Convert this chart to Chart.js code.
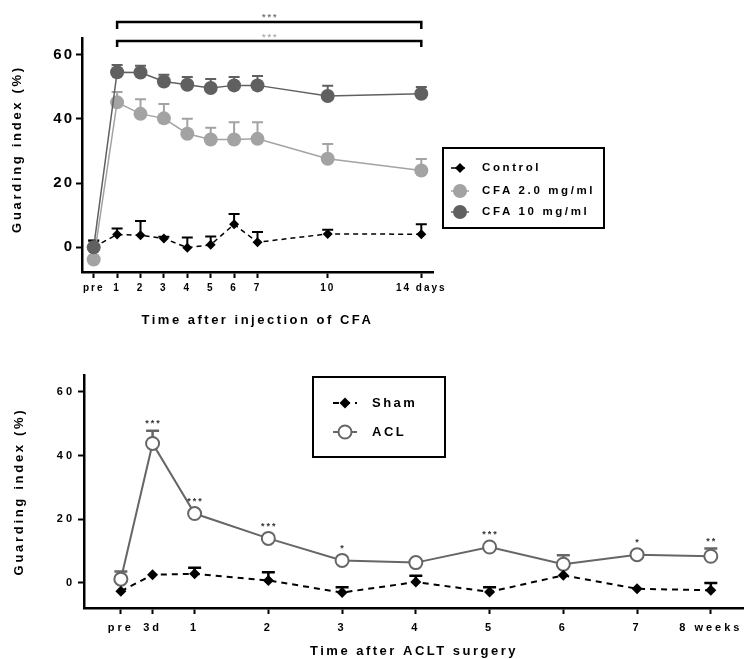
<!DOCTYPE html>
<html lang="en">
<head>
<meta charset="UTF-8">
<title>Guarding index</title>
<script src="https://cdn.jsdelivr.net/npm/chart.js"></script>
<style>
  html, body { margin: 0; padding: 0; background: #fff; }
  body { width: 744px; height: 659px; position: relative; overflow: hidden; }
  .panel { position: absolute; left: 0; width: 744px; }
  #topPanel { top: 0; height: 340px; }
  #botPanel { top: 340px; height: 319px; }
</style>
</head>
<body>
<div class="panel" id="topPanel"><canvas id="cfaChart"></canvas></div>
<div class="panel" id="botPanel"><canvas id="aclChart"></canvas></div>
<script>
// ---- top panel: CFA injection ----
const cfaDays = [0, 1, 2, 3, 4, 5, 6, 7, 10, 14];
const cfaDayLabels = ['pre', '1', '2', '3', '4', '5', '6', '7', '10', '14 days'];
const control = [0, 3.9, 3.7, 2.7, -0.2, 0.7, 7.1, 1.5, 4.1, 4.0];
const controlErr = [2.0, 1.9, 4.4, 0.5, 3.2, 2.6, 3.2, 3.2, 1.3, 3.1];
const cfa2 = [-3.9, 45.2, 41.6, 40.2, 35.4, 33.6, 33.6, 33.8, 27.6, 23.9];
const cfa2Err = [0, 3.2, 4.6, 4.5, 4.7, 3.7, 5.4, 5.2, 4.6, 3.6];
const cfa10 = [-0.1, 54.6, 54.5, 51.7, 50.7, 49.7, 50.5, 50.5, 47.2, 47.9];
const cfa10Err = [2.2, 2.3, 2.1, 2.1, 2.4, 2.8, 2.6, 2.9, 3.2, 2.1];

// ---- bottom panel: ACLT surgery ----
const aclWeeks = [0, 0.43, 1, 2, 3, 4, 5, 6, 7, 8];
const aclWeekLabels = ['pre', '3d', '1', '2', '3', '4', '5', '6', '7', '8 weeks'];
const sham = [-2.6, 2.6, 2.9, 0.8, -3.0, 0.3, -2.8, 2.4, -1.8, -2.3];
const shamErr = [0, 0, 1.9, 2.6, 1.7, 2.0, 1.5, 0, 0, 2.3];
const acl = [1.2, 43.8, 21.8, 14.0, 7.1, 6.4, 11.3, 5.9, 8.9, 8.4];
const aclErr = [2.4, 4.0, 0, 0, 0, 0, 0, 2.8, 0, 2.4];
const aclStars = ['', '***', '***', '***', '*', '', '***', '', '*', '**'];

const yTicks = [0, 20, 40, 60];
const FONT = "'Liberation Sans', Arial, sans-serif";

const pts = (xs, ys) => xs.map((x, i) => ({ x: x, y: ys[i] }));

// draws upward SEM whiskers from dataset.errors
function errorBarPlugin(width, capHalf) {
  return {
    id: 'errorBars',
    beforeDatasetsDraw(chart) {
      const ctx = chart.ctx;
      const ys = chart.scales.y;
      chart.data.datasets.forEach((ds, i) => {
        if (!ds.errors) return;
        const meta = chart.getDatasetMeta(i);
        ctx.save();
        ctx.strokeStyle = ds.errorColor || ds.borderColor;
        ctx.lineWidth = width;
        meta.data.forEach((pt, j) => {
          const e = ds.errors[j];
          if (!e) return;
          const top = ys.getPixelForValue(ds.data[j].y + e);
          ctx.beginPath();
          ctx.moveTo(pt.x, pt.y);
          ctx.lineTo(pt.x, top);
          ctx.moveTo(pt.x - capHalf, top);
          ctx.lineTo(pt.x + capHalf, top);
          ctx.stroke();
        });
        ctx.restore();
      });
    }
  };
}

// letter spacing (and small nudge) for axis labels / titles
function spacingPlugin(map) {
  return {
    id: 'spacing',
    afterUpdate(chart) {
      for (const id in map) {
        const s = chart.scales[id];
        if (!s || s._spaced) continue;
        s._spaced = true;
        const m = map[id];
        const wrap = (fn, sp, dy) => function (...a) {
          this.ctx.save();
          this.ctx.letterSpacing = sp + 'px';
          if (dy) this.ctx.translate(0, dy);
          fn.apply(this, a);
          this.ctx.restore();
        };
        s.drawLabels = wrap(s.drawLabels, m.ticks, 0);
        s.drawTitle = wrap(s.drawTitle, m.title, m.titleDy || 0);
      }
    }
  };
}

// framed legend box
function boxLegendPlugin(cfg) {
  return {
    id: 'boxLegend',
    afterDraw(chart) {
      const ctx = chart.ctx;
      ctx.save();
      ctx.lineWidth = 2;
      ctx.strokeStyle = '#000';
      ctx.strokeRect(cfg.x, cfg.y, cfg.w, cfg.h);
      cfg.items.forEach(it => {
        const ds = chart.data.datasets[it.index];
        ctx.save();
        ctx.strokeStyle = ds.borderColor;
        ctx.lineWidth = ds.borderWidth;
        ctx.setLineDash(ds.borderDash || []);
        ctx.beginPath();
        ctx.moveTo(cfg.symX - cfg.half, it.y);
        ctx.lineTo(cfg.symX + cfg.half, it.y);
        ctx.stroke();
        ctx.setLineDash([]);
        ctx.fillStyle = ds.pointBackgroundColor;
        ctx.strokeStyle = ds.pointBorderColor;
        ctx.lineWidth = ds.pointBorderWidth;
        Chart.helpers.drawPoint(ctx, { pointStyle: ds.pointStyle, radius: ds.pointRadius, borderWidth: ds.pointBorderWidth, rotation: 0 }, cfg.symX, it.y);
        ctx.restore();
        ctx.fillStyle = '#000';
        ctx.font = 'bold ' + cfg.fontSize + 'px ' + FONT;
        ctx.letterSpacing = cfg.spacing + 'px';
        ctx.textBaseline = 'middle';
        ctx.textAlign = 'left';
        ctx.fillText(ds.label, cfg.textX, it.y);
      });
      ctx.restore();
    }
  };
}

// significance brackets on the CFA panel
const bracketRows = [
  { y: 22, drop: 7, starY: 16, color: '#777' },
  { y: 41, drop: 6, starY: 36, color: '#b0b0b0' }
];
const bracketPlugin = {
  id: 'brackets',
  afterDraw(chart) {
    const ctx = chart.ctx;
    const xs = chart.scales.x;
    const x1 = xs.getPixelForValue(cfaDays[1]);
    const x2 = xs.getPixelForValue(cfaDays[cfaDays.length - 1]);
    ctx.save();
    bracketRows.forEach(r => {
      ctx.fillStyle = r.color;
      ctx.font = 'bold 9px ' + FONT;
      ctx.letterSpacing = '2px';
      ctx.textAlign = 'center';
      ctx.textBaseline = 'middle';
      ctx.fillText('***', (x1 + x2) / 2 + 1, r.starY + 2);
      ctx.strokeStyle = '#000';
      ctx.lineWidth = 2.5;
      ctx.beginPath();
      ctx.moveTo(x1, r.y + r.drop);
      ctx.lineTo(x1, r.y);
      ctx.lineTo(x2, r.y);
      ctx.lineTo(x2, r.y + r.drop);
      ctx.stroke();
    });
    ctx.restore();
  }
};

// stars over ACL points
const starPlugin = {
  id: 'stars',
  afterDatasetsDraw(chart) {
    const ctx = chart.ctx;
    const ys = chart.scales.y;
    const meta = chart.getDatasetMeta(1);
    ctx.save();
    ctx.fillStyle = '#333';
    ctx.font = 'bold 9px ' + FONT;
    ctx.letterSpacing = '2px';
    ctx.textAlign = 'center';
    ctx.textBaseline = 'middle';
    meta.data.forEach((pt, j) => {
      if (!aclStars[j]) return;
      let y = pt.y - 14;
      if (aclErr[j]) y = Math.min(y, ys.getPixelForValue(acl[j] + aclErr[j]) - 9);
      ctx.fillText(aclStars[j], pt.x + 1, y + 2);
    });
    ctx.restore();
  }
};

function axisOpts(o) {
  return {
    type: 'linear',
    min: o.min,
    max: o.max,
    afterBuildTicks: s => { s.ticks = o.ticks.map(v => ({ value: v })); },
    afterFit: s => {
      if (o.width !== undefined) s.width = o.width;
      if (o.height !== undefined) s.height = o.height;
      s.paddingLeft = 0; s.paddingRight = 0; s.paddingTop = 0; s.paddingBottom = 0;
    },
    grid: { display: true, drawOnChartArea: false, drawTicks: true, tickLength: 6, tickWidth: 2, tickColor: '#000' },
    border: { display: true, color: '#000', width: 2.5 },
    ticks: {
      autoSkip: false,
      maxRotation: 0,
      color: '#000',
      padding: o.pad,
      font: { family: FONT, size: o.tickSize, weight: 'bold' },
      callback: o.labels ? (v, i) => o.labels[i] : (v => v)
    },
    title: {
      display: true,
      text: o.title,
      color: '#000',
      font: { family: FONT, size: 13, weight: 'bold' },
      padding: o.titlePad
    }
  };
}

new Chart(document.getElementById('cfaChart'), {
  type: 'line',
  data: {
    datasets: [
      {
        label: 'CFA 10 mg/ml', data: pts(cfaDays, cfa10), errors: cfa10Err,
        borderColor: '#606060', borderWidth: 1.5, pointStyle: 'circle', pointRadius: 7,
        pointBackgroundColor: '#606060', pointBorderColor: '#606060', pointBorderWidth: 0
      },
      {
        label: 'CFA 2.0 mg/ml', data: pts(cfaDays, cfa2), errors: cfa2Err,
        borderColor: '#a3a3a3', borderWidth: 1.5, pointStyle: 'circle', pointRadius: 7,
        pointBackgroundColor: '#a3a3a3', pointBorderColor: '#a3a3a3', pointBorderWidth: 0
      },
      {
        label: 'Control', data: pts(cfaDays, control), errors: controlErr,
        borderColor: '#000', borderWidth: 1.5, borderDash: [5, 4], pointStyle: 'rectRot', pointRadius: 5,
        pointBackgroundColor: '#000', pointBorderColor: '#000', pointBorderWidth: 0
      }
    ]
  },
  options: {
    responsive: true,
    maintainAspectRatio: false,
    animation: false,
    layout: { autoPadding: false, padding: { top: 38, right: 311, bottom: 0, left: 0 } },
    plugins: { legend: { display: false }, tooltip: { enabled: false } },
    scales: {
      x: axisOpts({ min: -0.5, max: 14.5, ticks: cfaDays, labels: cfaDayLabels, tickSize: 10, pad: 4,
        height: 68, title: 'Time after injection of CFA', titlePad: { top: 0, bottom: 12 } }),
      y: axisOpts({ min: -7.8, max: 65.3, ticks: yTicks, tickSize: 15, pad: 2,
        width: 82, title: 'Guarding index (%)', titlePad: { top: 10, bottom: 0 } })
    }
  },
  plugins: [
    errorBarPlugin(2, 5.5),
    spacingPlugin({ x: { ticks: 2, title: 2.5 }, y: { ticks: 2, title: 2.7, titleDy: -6 } }),
    boxLegendPlugin({ x: 443, y: 148, w: 161, h: 80, symX: 460, half: 9, textX: 482, fontSize: 11.5, spacing: 2.6,
      items: [{ index: 2, y: 168 }, { index: 1, y: 191 }, { index: 0, y: 212 }] }),
    bracketPlugin
  ]
});

new Chart(document.getElementById('aclChart'), {
  type: 'line',
  data: {
    datasets: [
      {
        label: 'Sham', data: pts(aclWeeks, sham), errors: shamErr,
        borderColor: '#000', borderWidth: 2, borderDash: [6, 5], pointStyle: 'rectRot', pointRadius: 5.5,
        pointBackgroundColor: '#000', pointBorderColor: '#000', pointBorderWidth: 0
      },
      {
        label: 'ACL', data: pts(aclWeeks, acl), errors: aclErr,
        borderColor: '#666', borderWidth: 2, pointStyle: 'circle', pointRadius: 6.5,
        pointBackgroundColor: '#fff', pointBorderColor: '#666', pointBorderWidth: 2
      }
    ]
  },
  options: {
    responsive: true,
    maintainAspectRatio: false,
    animation: false,
    layout: { autoPadding: false, padding: { top: 35, right: 0, bottom: 0, left: 0 } },
    plugins: { legend: { display: false }, tooltip: { enabled: false } },
    scales: {
      x: axisOpts({ min: -0.5, max: 8.45, ticks: aclWeeks, labels: aclWeekLabels, tickSize: 11, pad: 7,
        height: 51, title: 'Time after ACLT surgery', titlePad: { top: 0, bottom: 0 } }),
      y: axisOpts({ min: -7.85, max: 65.3, ticks: yTicks, tickSize: 11, pad: 3,
        width: 84, title: 'Guarding index (%)', titlePad: { top: 12, bottom: 0 } })
    }
  },
  plugins: [
    errorBarPlugin(2.5, 6.5),
    spacingPlugin({ x: { ticks: 3, title: 2.5 }, y: { ticks: 3, title: 2.7 } }),
    boxLegendPlugin({ x: 313, y: 37, w: 132, h: 80, symX: 345, half: 12, textX: 372, fontSize: 13, spacing: 2.5,
      items: [{ index: 0, y: 63 }, { index: 1, y: 92 }] }),
    starPlugin
  ]
});
</script>
</body>
</html>
